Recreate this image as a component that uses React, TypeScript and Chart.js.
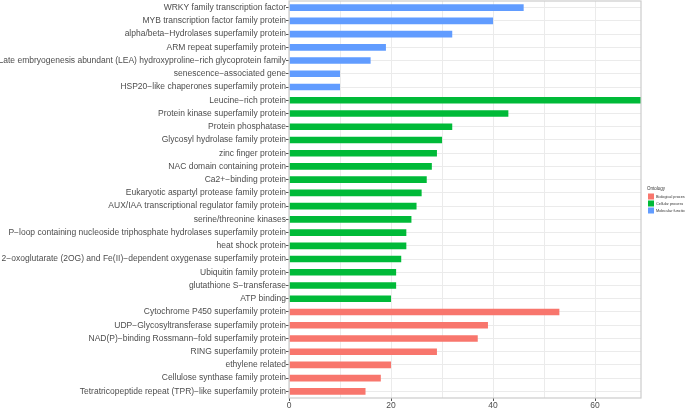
import React, { useEffect, useRef } from "react";
import { Chart, registerables } from "chart.js";

Chart.register(...registerables);

const categories = [
  "WRKY family transcription factor",
  "MYB transcription factor family protein",
  "alpha/beta\u2212Hydrolases superfamily protein",
  "ARM repeat superfamily protein",
  "Late embryogenesis abundant (LEA) hydroxyproline\u2212rich glycoprotein family",
  "senescence\u2212associated gene",
  "HSP20\u2212like chaperones superfamily protein",
  "Leucine\u2212rich protein",
  "Protein kinase superfamily protein",
  "Protein phosphatase",
  "Glycosyl hydrolase family protein",
  "zinc finger protein",
  "NAC domain containing protein",
  "Ca2+\u2212binding protein",
  "Eukaryotic aspartyl protease family protein",
  "AUX/IAA transcriptional regulator family protein",
  "serine/threonine kinases",
  "P\u2212loop containing nucleoside triphosphate hydrolases superfamily protein",
  "heat shock protein",
  "2\u2212oxoglutarate (2OG) and Fe(II)\u2212dependent oxygenase superfamily protein",
  "Ubiquitin family protein",
  "glutathione S\u2212transferase",
  "ATP binding",
  "Cytochrome P450 superfamily protein",
  "UDP\u2212Glycosyltransferase superfamily protein",
  "NAD(P)\u2212binding Rossmann\u2212fold superfamily protein",
  "RING superfamily protein",
  "ethylene related",
  "Cellulose synthase family protein",
  "Tetratricopeptide repeat (TPR)\u2212like superfamily protein",
];

const counts = [
  46, 40, 32, 19, 16, 10, 10,
  69, 43, 32, 30, 29, 28, 27, 26, 25, 24, 23, 23, 22, 21, 21, 20,
  53, 39, 37, 29, 20, 18, 15,
];

const ontology = [
  "Molecular function", "Molecular function", "Molecular function", "Molecular function",
  "Molecular function", "Molecular function", "Molecular function",
  "Cellular process", "Cellular process", "Cellular process", "Cellular process",
  "Cellular process", "Cellular process", "Cellular process", "Cellular process",
  "Cellular process", "Cellular process", "Cellular process", "Cellular process",
  "Cellular process", "Cellular process", "Cellular process", "Cellular process",
  "Biological process", "Biological process", "Biological process", "Biological process",
  "Biological process", "Biological process", "Biological process",
];

const legendGroups = ["Biological process", "Cellular process", "Molecular function"];
const groupColors = ["#F8766D", "#00BA38", "#619CFF"];
const xMax = 69;

const FONT = "'Liberation Sans', Arial, sans-serif";

export default function App() {
  const ref = useRef<HTMLCanvasElement>(null);

  useEffect(() => {
    if (!ref.current) return;
    const colorOf = (g: string) => groupColors[legendGroups.indexOf(g)];

    const panelPlugin = {
      id: "panelBorder",
      afterDatasetsDraw(chart: any) {
        const { ctx, chartArea } = chart;
        ctx.save();
        ctx.strokeStyle = "#CCCCCC";
        ctx.lineWidth = 1.2;
        ctx.strokeRect(chartArea.left, chartArea.top, chartArea.right - chartArea.left, chartArea.bottom - chartArea.top);
        ctx.restore();
      },
      afterDraw(chart: any) {
        const { ctx } = chart;
        ctx.save();
        ctx.fillStyle = "#333333";
        ctx.textBaseline = "middle";
        ctx.textAlign = "left";
        ctx.font = `4.5px ${FONT}`;
        ctx.fillText("Ontology", 647, 189);
        ctx.font = `3.8px ${FONT}`;
        legendGroups.forEach((g, i) => {
          const y = 193.5 + i * 7;
          ctx.fillStyle = groupColors[i];
          ctx.fillRect(648, y, 6, 6);
          ctx.fillStyle = "#333333";
          ctx.fillText(g, 656, y + 3);
        });
        ctx.restore();
      },
    };

    const chart = new Chart(ref.current, {
      type: "bar",
      data: {
        labels: categories,
        datasets: [
          {
            label: "Count",
            data: counts,
            backgroundColor: ontology.map(colorOf),
            borderWidth: 0,
            barPercentage: 0.5,
            categoryPercentage: 1,
          },
        ],
      },
      options: {
        indexAxis: "y",
        animation: false,
        responsive: false,
        layout: { padding: { top: 1, right: 44, left: 0, bottom: 0 } },
        plugins: {
          legend: { display: false },
          tooltip: { enabled: false },
        },
        scales: {
          x: {
            type: "linear",
            min: 0,
            max: xMax,
            afterFit(scale: any) {
              scale.height = 10;
              scale.paddingLeft = 0;
              scale.paddingRight = 0;
            },
            border: { display: false },
            grid: {
              color: "#EBEBEB",
              lineWidth: 1,
              tickLength: 3,
              tickColor: (c: any) => (c.tick && c.tick.value % 20 === 0 ? "#555555" : "rgba(0,0,0,0)"),
            },
            ticks: {
              stepSize: 10,
              includeBounds: false,
              autoSkip: false,
              maxRotation: 0,
              padding: 0,
              color: "#4D4D4D",
              font: { family: FONT, size: 8.5 },
              callback: (v: any) => (Number(v) % 20 === 0 ? String(v) : ""),
            },
          },
          y: {
            type: "category",
            afterFit(scale: any) {
              scale.width = 289;
              scale.paddingTop = 0;
              scale.paddingBottom = 0;
            },
            border: { display: false },
            grid: {
              offset: false,
              color: "#EBEBEB",
              lineWidth: 1,
              tickLength: 3,
              tickColor: "#555555",
            },
            ticks: {
              autoSkip: false,
              padding: 0,
              color: "#4D4D4D",
              font: { family: FONT, size: 8.5 },
            },
          },
        },
      },
      plugins: [panelPlugin],
    } as any);

    return () => chart.destroy();
  }, []);

  return (
    <div style={{ position: "fixed", left: 0, top: 0, width: 685, height: 408, background: "#fff" }}>
      <canvas ref={ref} width={685} height={408} style={{ display: "block" }} />
    </div>
  );
}
